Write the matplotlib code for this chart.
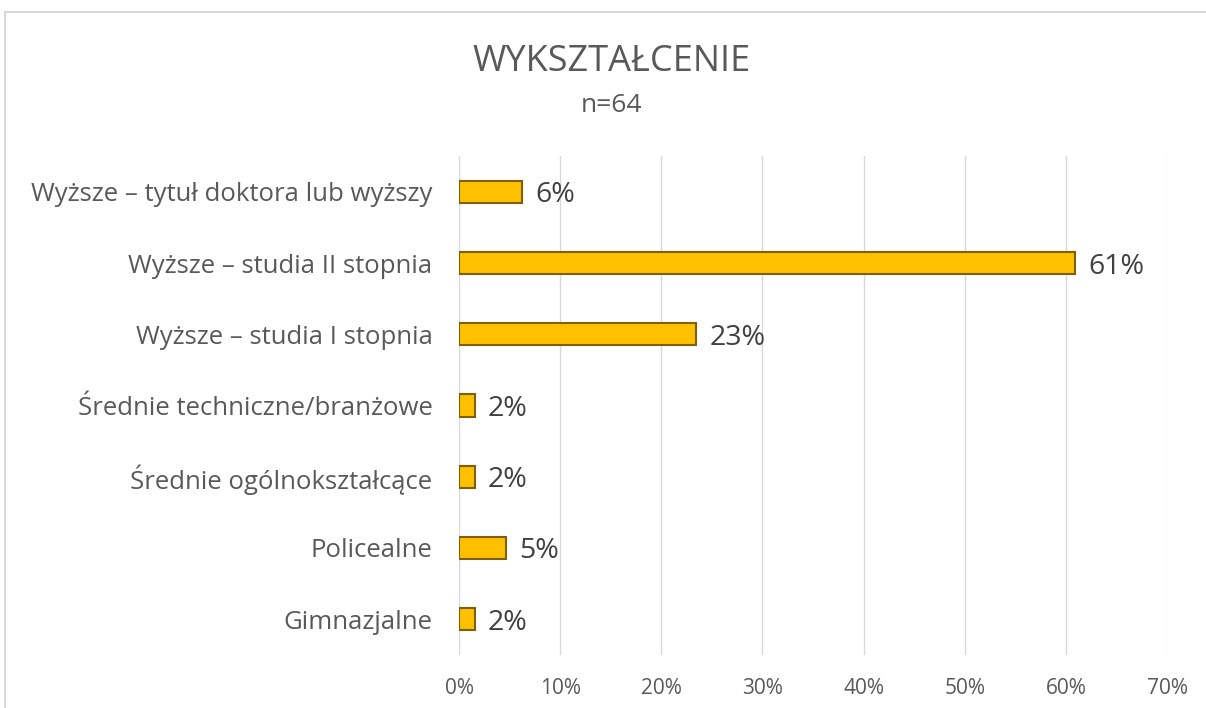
import matplotlib.pyplot as plt
from matplotlib.patches import Rectangle
from matplotlib.ticker import FuncFormatter

plt.rcParams['font.family'] = ['Open Sans', 'DejaVu Sans']

categories = [
    'Wyższe – tytuł doktora lub wyższy',
    'Wyższe – studia II stopnia',
    'Wyższe – studia I stopnia',
    'Średnie techniczne/branżowe',
    'Średnie ogólnokształcące',
    'Policealne',
    'Gimnazjalne',
]
shares = [6.25, 60.94, 23.44, 1.56, 1.56, 4.69, 1.56]
ticks = [0, 10, 20, 30, 40, 50, 60, 70]

fig = plt.figure(figsize=(12.06, 7.08), dpi=100)
fig.patches.append(Rectangle((0.004, -0.01), 1.2, 0.993, transform=fig.transFigure,
                             fill=False, edgecolor='#D9D9D9', linewidth=1.5))

ax = fig.add_axes([0.3806, 0.0753, 0.5871, 0.7039])
ypos = list(range(len(categories)))[::-1]
ax.barh(ypos, shares, height=0.31, color='#FFC000', edgecolor='#7F6000', linewidth=1.5, zorder=3)

for y, v in zip(ypos, shares):
    ax.text(v + 1.3, y, f'{round(v)}%', va='center_baseline', ha='left', fontsize=20.5, color='#404040')

ax.set_xlim(0, 70)
ax.set_ylim(-0.5, len(categories) - 0.5)
ax.set_xticks(ticks)
ax.xaxis.set_major_formatter(FuncFormatter(lambda x, _: f'{x:.0f}%'))
ax.set_yticks(ypos)
ax.set_yticklabels(categories)
ax.tick_params(axis='y', length=0, pad=19, labelsize=18.5, labelcolor='#595959')
ax.tick_params(axis='x', length=0, pad=17, labelsize=15, labelcolor='#595959')
ax.grid(axis='x', color='#D9D9D9', linewidth=1, zorder=0)
for s in ax.spines.values():
    s.set_visible(False)

fig.text(0.507, 0.912, 'WYKSZTAŁCENIE', ha='center', va='center', fontsize=26, color='#595959')
fig.text(0.507, 0.851, 'n=64', ha='center', va='center', fontsize=19, color='#595959')

fig.savefig('out.png', dpi=100)
